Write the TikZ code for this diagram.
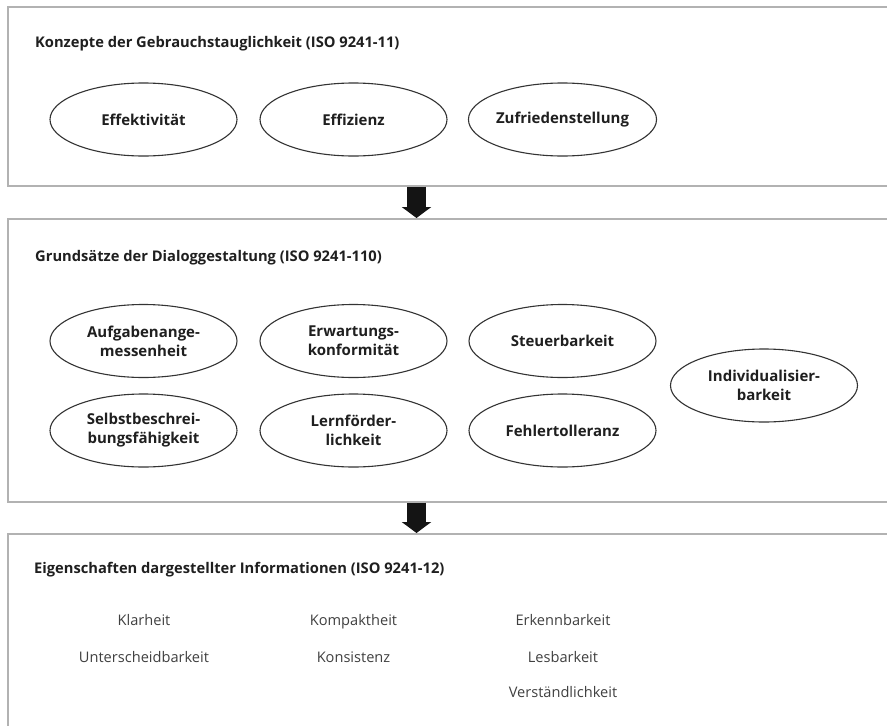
\documentclass[tikz,border=0pt]{standalone}
\usepackage{fontspec}
\setmainfont{Open Sans}
\usetikzlibrary{shapes.geometric, arrows.meta, calc}

\begin{document}
\begin{tikzpicture}[x=1pt, y=-1pt,
  panel/.style={draw=black!30, line width=1.6pt, rectangle, anchor=north west, inner sep=0pt},
  heading/.style={anchor=base west, inner sep=0pt, text=black!88,
    font=\fontsize{14.7}{19}\selectfont\bfseries},
  concept/.style={ellipse, draw=black!80, line width=1.1pt, minimum width=187pt,
    minimum height=73pt, inner sep=0pt, align=center, text=black!88,
    font=\fontsize{15}{19}\selectfont\bfseries},
  prop/.style={anchor=base, inner sep=0pt, text=black!75,
    font=\fontsize{14.6}{18}\selectfont},
  flow/.style={line width=19pt, draw=black!92, -{Triangle[width=29pt, length=11pt]}}
]
\useasboundingbox (0,0) rectangle (887,726);
\fill[white] (0,0) rectangle (887,726);

\begin{scope}
\clip (0,0) rectangle (887,726);

% the three panels, open to the right and bottom
\node[panel, minimum width=900pt, minimum height=179pt] (p1) at (7,6) {};
\node[panel, minimum width=900pt, minimum height=283pt] (p2) at (7,218) {};
\node[panel, minimum width=900pt, minimum height=240pt] (p3) at (7,533) {};

% panel headings
\node[heading] (h1) at (35,47) {Konzepte der Gebrauchstauglichkeit (ISO 9241-11)};
\node[heading] (h2) at (35,261) {Grundsätze der Dialoggestaltung (ISO 9241-110)};
\node[heading] (h3) at (34,573) {Eigenschaften dargestellter Informationen (ISO 9241-12)};

% usability concepts
\node[concept] (c1) at (143.5,119.5) {Effektivität};
\node[concept] (c2) at (353.5,119.5) {Effizienz};
\node[concept] (c3) at (562.5,119.5) {Zufriedenstellung};

% dialogue principles
\node[concept] (d1) at (143.5,341) {Aufgabenange-\\messenheit};
\node[concept] (d2) at (353.5,341) {Erwartungs-\\konformität};
\node[concept] (d3) at (562.5,341) {Steuerbarkeit};
\node[concept] (d4) at (143.5,430.5) {Selbstbeschrei-\\bungsfähigkeit};
\node[concept] (d5) at (353.5,430.5) {Lernförder-\\lichkeit};
\node[concept] (d6) at (562.5,430.5) {Fehlertolleranz};
\node[concept] (d7) at (764,385.5) {Individualisier-\\barkeit};

% information properties
\node[prop] (i1) at (144,625) {Klarheit};
\node[prop] (i2) at (144,662) {Unterscheidbarkeit};
\node[prop] (i3) at (353.5,625) {Kompaktheit};
\node[prop] (i4) at (353.5,662) {Konsistenz};
\node[prop] (i5) at (563,625) {Erkennbarkeit};
\node[prop] (i6) at (563,662) {Lesbarkeit};
\node[prop] (i7) at (563,697) {Verständlichkeit};

% block arrows between the panels
\coordinate (ax) at (416.5,0);
\draw[flow] (ax |- p1.south) -- (ax |- p2.north);
\draw[flow] (ax |- p2.south) -- (ax |- p3.north);
\end{scope}
\end{tikzpicture}
\end{document}
